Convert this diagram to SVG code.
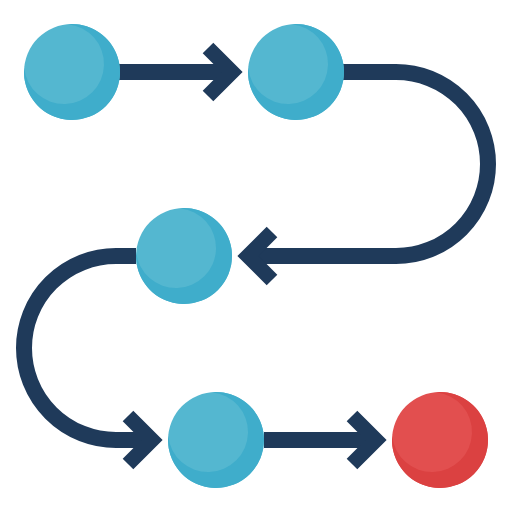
<svg xmlns="http://www.w3.org/2000/svg" xmlns:xlink="http://www.w3.org/1999/xlink" width="512" height="512" viewBox="0 0 512 512">
<style>
.line{fill:none;stroke:#1F3A5A;stroke-width:16;}
.chev{fill:none;stroke:#1F3A5A;stroke-width:15;stroke-linejoin:miter;stroke-miterlimit:4;}
.blue .base{fill:#54B7D0;}
.blue .shade{fill:#3FADCB;}
.red .base{fill:#E24F4F;}
.red .shade{fill:#DB4141;}
</style>
<defs>
<path id="crescent" d="M-4.18,-47.82 A48,48 0 1 1 -47.82,-4.18 A40,40 0 1 0 -4.18,-47.82 Z"/>
</defs>
<g id="connectors">
<path class="line" d="M119,72 H233"/>
<path class="chev" d="M208,48 L232,72 L208,96"/>
<path class="line" d="M343,72 H396 A92,92 0 0 1 396,256 H247"/>
<path class="chev" d="M272,232 L248,256 L272,280"/>
<path class="line" d="M136,256 H116 A92,92 0 0 0 116,440 H153"/>
<path class="chev" d="M128,416 L152,440 L128,464"/>
<path class="line" d="M264,440 H377"/>
<path class="chev" d="M352,416 L376,440 L352,464"/>
</g>
<g id="node1" class="blue" transform="translate(72,72)"><circle class="base" r="48"/><use class="shade" href="#crescent"/></g>
<g id="node2" class="blue" transform="translate(296,72)"><circle class="base" r="48"/><use class="shade" href="#crescent"/></g>
<g id="node3" class="blue" transform="translate(184,256)"><circle class="base" r="48"/><use class="shade" href="#crescent"/></g>
<g id="node4" class="blue" transform="translate(216,440)"><circle class="base" r="48"/><use class="shade" href="#crescent"/></g>
<g id="node5" class="red" transform="translate(440,440)"><circle class="base" r="48"/><use class="shade" href="#crescent"/></g>
</svg>
